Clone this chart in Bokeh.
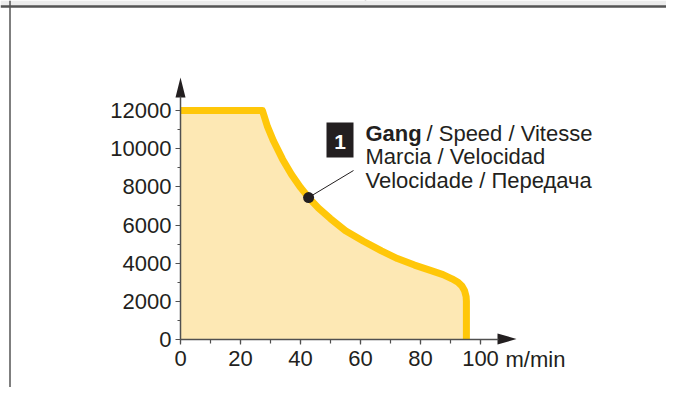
from bokeh.plotting import figure
from bokeh.models import (Range1d, LinearAxis, SingleIntervalTicker, Label, Span, BoxAnnotation)
from bokeh.embed import file_html
from bokeh.resources import INLINE

# ---- data ----
speed = [0, 27.3, 29, 31, 34, 37, 40, 42.7, 46, 50, 55, 61, 67, 72.3, 78, 83.3,
         87.5, 90.5, 92.5, 93.8, 94.7, 95.2, 95.3, 95.3]
value = [12000, 12000, 11150, 10400, 9450, 8650, 7970, 7440, 6880, 6330, 5700, 5150, 4640, 4240,
         3900, 3620, 3400, 3180, 3000, 2800, 2550, 2250, 2000, 0]
marker_speed = [42.7]
marker_value = [7440]
legend_lines = ["Gang", "/ Speed / Vitesse", "Marcia / Velocidad", "Velocidade / Передача"]
x_unit = "m/min"

FONT = "Liberation Sans"
TXT = "#231f20"
AX = "#505050"
LINE = "#FFC709"
FILL = "#FDE8B4"
FS = "22px"

# ---- geometry (page pixels) ----
W, H = 666, 387
OFF = 0
X0, SX = 180.0, 3.0               # page x of speed 0, px per unit
Y0, SY = 339.0, 229.0 / 12000.0   # page y of value 0, px per unit
LX, LY = -1.0, -7.0               # label placement correction

def dx(px):  # page x -> data
    return (px - X0) / SX

def dy(py):  # page y -> data
    return (Y0 - py) / SY

p = figure(width=W, height=H, output_backend="svg", toolbar_location=None,
           x_range=Range1d(dx(OFF), dx(OFF + W)), y_range=Range1d(dy(OFF + H), dy(OFF)),
           x_axis_location=None, y_axis_location=None, min_border=0,
           outline_line_color=None)
p.grid.grid_line_color = None
p.background_fill_color = "white"
p.border_fill_color = "white"

# frame decoration: top band, rule, divider, left border
p.add_layout(BoxAnnotation(top=dy(0), bottom=dy(5.5), fill_color="#ececec", fill_alpha=1,
                           line_color=None))
p.add_layout(Span(location=dy(6), dimension="width", line_color="#555555", line_width=2.5))
p.segment(x0=[dx(365)], y0=[dy(0)], x1=[dx(365)], y1=[dy(6)], line_color="#555555", line_width=1.5)
p.add_layout(Span(location=dx(9.5), dimension="height", line_color="#555555", line_width=1.5))

# ---- area and curve ----
p.patch(speed + [0], value + [0], fill_color=FILL, line_color=None)
p.line(speed, value, line_color=LINE, line_width=7, line_join="round")

# ---- axes ----
def style_axis(ax, minor_out):
    ax.axis_line_color = AX
    ax.axis_line_width = 1.5
    ax.major_tick_line_color = AX
    ax.minor_tick_line_color = AX
    ax.major_tick_line_width = 1.2
    ax.minor_tick_line_width = 1.2
    ax.major_tick_in = 0
    ax.major_tick_out = 5
    ax.minor_tick_in = 0
    ax.minor_tick_out = minor_out
    ax.major_label_text_font = FONT
    ax.major_label_text_font_size = FS
    ax.major_label_text_color = TXT

yax = LinearAxis(fixed_location=0, ticker=SingleIntervalTicker(interval=2000, num_minor_ticks=2),
                 bounds=(0, dy(96)))
style_axis(yax, 3)
yax.major_label_standoff = 4
p.add_layout(yax, "left")

xax = LinearAxis(fixed_location=0, ticker=SingleIntervalTicker(interval=20, num_minor_ticks=2),
                 bounds=(0, dx(498)))
style_axis(xax, 4)
xax.major_label_standoff = 6
p.add_layout(xax, "below")

# axis arrows
p.patch([dx(175), dx(180), dx(185)], [dy(97), dy(77), dy(97)], fill_color=TXT, line_color=None)
p.patch([dx(497), dx(516), dx(497)], [dy(333), dy(338.5), dy(344)], fill_color=TXT, line_color=None)

def label(px, py, text, **kw):
    p.add_layout(Label(x=dx(px + LX), y=dy(py + LY), text=text, text_font=FONT,
                       text_color=kw.pop("color", TXT), text_font_size=kw.pop("size", FS),
                       text_baseline="alphabetic", **kw))

label(506, 366, x_unit)

# ---- callout ----
p.segment(x0=marker_speed, y0=marker_value, x1=[dx(353)], y1=[dy(170)], line_color=TXT, line_width=1)
p.scatter(marker_speed, marker_value, size=11, fill_color=TXT, line_color=None)

p.quad(left=[dx(326)], right=[dx(353)], top=[dy(122)], bottom=[dy(157)], fill_color=TXT, line_color=None)
label(340.5, 148.5, "1", text_font_style="bold", size="21px", color="white", text_align="center")

label(366, 139.5, legend_lines[0], text_font_style="bold")
label(427, 139.5, legend_lines[1])
label(366, 163, legend_lines[2])
label(366, 186.5, legend_lines[3])

open("out.html", "w").write(file_html(p, INLINE))
